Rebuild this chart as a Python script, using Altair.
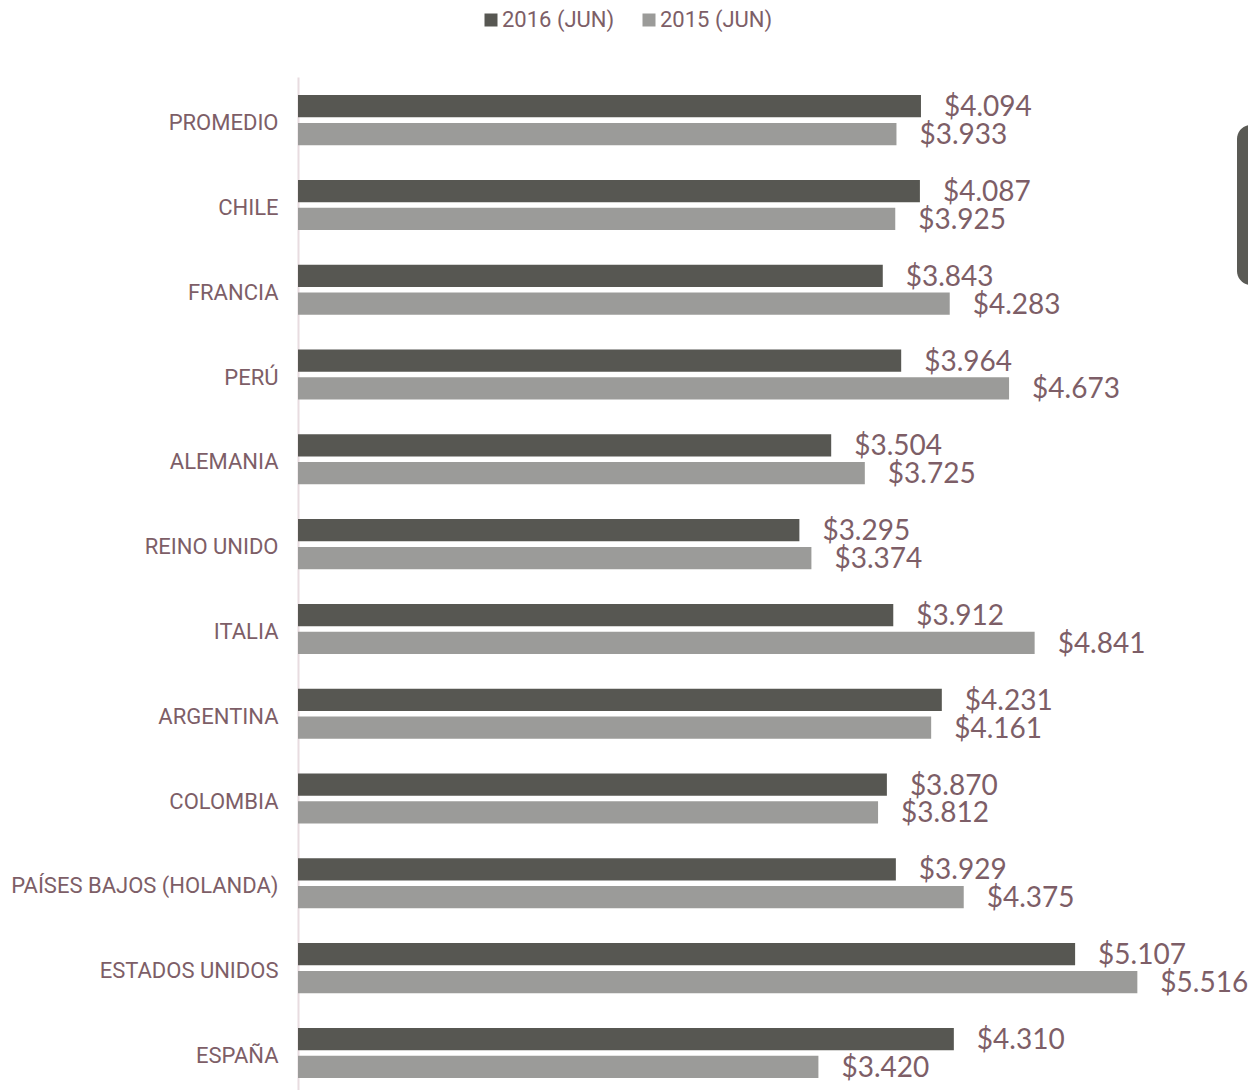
import altair as alt
import pandas as pd

categories = ["PROMEDIO", "CHILE", "FRANCIA", "PERÚ", "ALEMANIA", "REINO UNIDO",
              "ITALIA", "ARGENTINA", "COLOMBIA", "PAÍSES BAJOS (HOLANDA)",
              "ESTADOS UNIDOS", "ESPAÑA"]
series = ["2016 (JUN)", "2015 (JUN)"]
v2016 = [4094, 4087, 3843, 3964, 3504, 3295, 3912, 4231, 3870, 3929, 5107, 4310]
v2015 = [3933, 3925, 4283, 4673, 3725, 3374, 4841, 4161, 3812, 4375, 5516, 3420]

DARK = "#575752"
LIGHT = "#9b9b99"
MAUVE = "#7d5e67"

rows = []
for c, a, b in zip(categories, v2016, v2015):
    rows.append({"pais": c, "serie": series[0], "valor": a})
    rows.append({"pais": c, "serie": series[1], "valor": b})
df = pd.DataFrame(rows)
df["etiqueta"] = df["valor"].map(lambda v: "$" + f"{v:,}".replace(",", "."))

base = alt.Chart(df).encode(
    y=alt.Y(
        "pais:N",
        sort=categories,
        scale=alt.Scale(paddingInner=0.41, paddingOuter=0.178, align=0.6),
        axis=alt.Axis(
            title=None, ticks=False, tickSize=0, labelPadding=20, labelOffset=3,
            labelFont="Roboto", labelFontSize=22, labelColor=MAUVE,
            domainColor="#e8dce0", domainWidth=2, labelLimit=400, grid=False,
        ),
    ),
    yOffset=alt.YOffset("serie:N", sort=series,
                        scale=alt.Scale(paddingInner=0.2, paddingOuter=0)),
)

bars = base.mark_bar().encode(
    x=alt.X("valor:Q", scale=alt.Scale(domain=[0, 6000]), axis=None),
    color=alt.Color(
        "serie:N", sort=series,
        scale=alt.Scale(domain=series, range=[DARK, LIGHT]),
        legend=alt.Legend(
            orient="none", legendX=182, legendY=-68, direction="horizontal",
            title=None, symbolType="square", symbolSize=169, symbolStrokeWidth=0,
            labelFont="Roboto", labelFontSize=22, labelColor=MAUVE,
            labelOffset=0, columnPadding=23, padding=0,
        ),
    ),
)

labels = base.mark_text(
    align="left", baseline="middle", dx=23, dy=2, font="Lato", fontSize=28,
    color=MAUVE
).encode(
    x=alt.X("valor:Q"),
    text="etiqueta:N",
)

box = alt.Chart(pd.DataFrame({"a": [0]})).mark_rect(
    color="#5a5a55", cornerRadius=14
).encode(
    x=alt.value(939), x2=alt.value(975), y=alt.value(48), y2=alt.value(208)
)

chart = alt.layer(bars, labels, box).properties(
    width=913,
    height=1013,
    autosize=alt.AutoSizeParams(type="none"),
    padding={"left": 290, "top": 69, "right": 37, "bottom": 0},
    background="white",
).configure_view(stroke=None)

chart.save("out.html", embed_options={"renderer": "svg", "actions": False})
